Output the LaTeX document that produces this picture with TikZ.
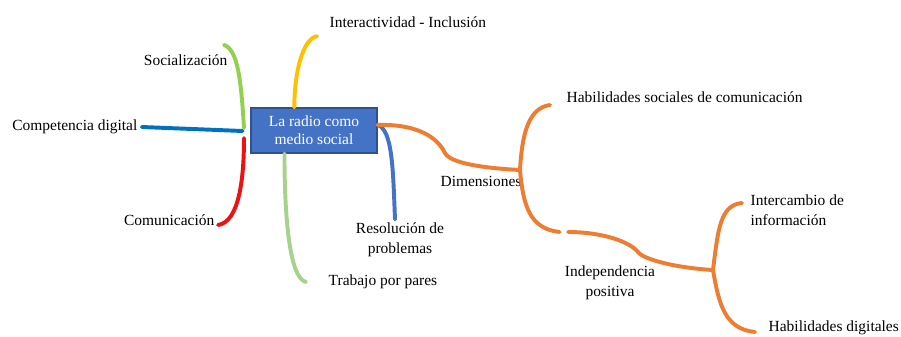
\documentclass[tikz,border=0pt]{standalone}
\usepackage{fontspec}
\setmainfont{Liberation Serif}
\usepackage{tikz}
\usepackage{xcolor}
\definecolor{socgreen}{HTML}{92D050}
\definecolor{compblue}{HTML}{0070C0}
\definecolor{comured}{HTML}{EE1111}
\definecolor{interyellow}{HTML}{FFC000}
\definecolor{trabgreen}{HTML}{A9D18E}
\definecolor{resoblue}{HTML}{4472C4}
\definecolor{dimorange}{HTML}{ED7D31}
\definecolor{boxblue}{HTML}{4472C4}
\definecolor{boxedge}{HTML}{2F528F}

\begin{document}
\begin{tikzpicture}[x=0.025cm,y=-0.025cm]
\tikzset{
    lbl/.style={%
        inner sep=1pt,
        font=\fontsize{11}{14}\selectfont
        },
    root/.style={%
        draw=boxedge, thick,
        fill=boxblue,
        rectangle,
        text=white,
        align=center,
        minimum width=3.15cm,
        minimum height=1.125cm,
        font=\fontsize{11}{12.6}\selectfont
        },
    br/.style={%
        line width=2.8pt,
        line cap=round
        },
}
\useasboundingbox (0,0) rectangle (901,336);
%%%CENTRE
\node[root] (radio) at (314,130.5) {La radio como\\medio social};
%%%LABELS
\node[lbl, anchor=east] (soc) at (229,60) {Socialización};
\node[lbl, anchor=east] (comp) at (139,127) {Competencia digital};
\node[lbl, anchor=east] (comu) at (216,220) {Comunicación};
\node[lbl, anchor=west] (inter) at (328,22) {Interactividad - Inclusión};
\node[lbl, anchor=west] (trab) at (327,282) {Trabajo por pares};
\node[lbl, align=center] (reso) at (400,240) {Resolución de\\problemas};
\node[lbl] (dim) at (481,181) {Dimensiones};
\node[lbl, anchor=west] (habsoc) at (565,97) {Habilidades sociales de comunicación};
\node[lbl, align=center] (indep) at (610,283) {Independencia\\positiva};
\node[lbl, align=left, anchor=west] (interc) at (749,210) {Intercambio de\\información};
\node[lbl, anchor=west] (habdig) at (767,328) {Habilidades digitales};
%%%JOINTS
\coordinate (lhub) at (244,131);
\coordinate (dimj) at (520,170);
\coordinate (indstart) at (568,232);
\coordinate (indj) at (713,270);
%%%LEFT BRANCHES
\draw[br, socgreen] ([shift={(-5,-8)}]soc.north east) .. controls +(14,5) and +(-3,-48) .. ([shift={(0,-3)}]lhub);
\draw[br, compblue] ([xshift=2pt]comp.east) -- ([xshift=-1pt]lhub);
\draw[br, comured] ([shift={(2,5)}]comu.east) .. controls +(22,-3) and +(0,37) .. ([shift={(0,7)}]lhub);
%%%TOP AND BOTTOM
\draw[br, interyellow] ([xshift=-14]radio.north) .. controls +(0,-33) and +(-15,3) .. ([shift={(-11,7)}]inter.south west);
\draw[br, trabgreen] ([xshift=-21]radio.south) .. controls +(0,67) and +(-16,-4) .. ([xshift=-15]trab.west);
\draw[br, resoblue] ([yshift=4]radio.east) .. controls +(15,5) and +(-2,-50) .. ([shift={(-5,-2)}]reso.north);
%%%DIMENSIONES
\draw[br, dimorange] ([yshift=4]radio.east) .. controls +(48,-1) and +(-5,-10) .. (445,153)
    .. controls +(5,10) and +(-38,-2) .. (dimj);
\draw[br, dimorange] (dimj) .. controls +(2,-35) and +(-22,3) .. ([shift={(-15,8)}]habsoc.west);
\draw[br, dimorange] (dimj) .. controls +(3,35) and +(-30,-3) .. ([xshift=-6]indstart);
%%%INDEPENDENCIA
\draw[br, dimorange] (indstart) .. controls +(35,0) and +(-8,-10) .. (638,252)
    .. controls +(6,8) and +(-35,-2) .. (indj);
\draw[br, dimorange] (indj) .. controls +(5,-40) and +(-22,2) .. ([shift={(-7,-7)}]interc.west);
\draw[br, dimorange] (indj) .. controls +(6,35) and +(-30,-3) .. ([shift={(-12,4)}]habdig.west);
\end{tikzpicture}
\end{document}
